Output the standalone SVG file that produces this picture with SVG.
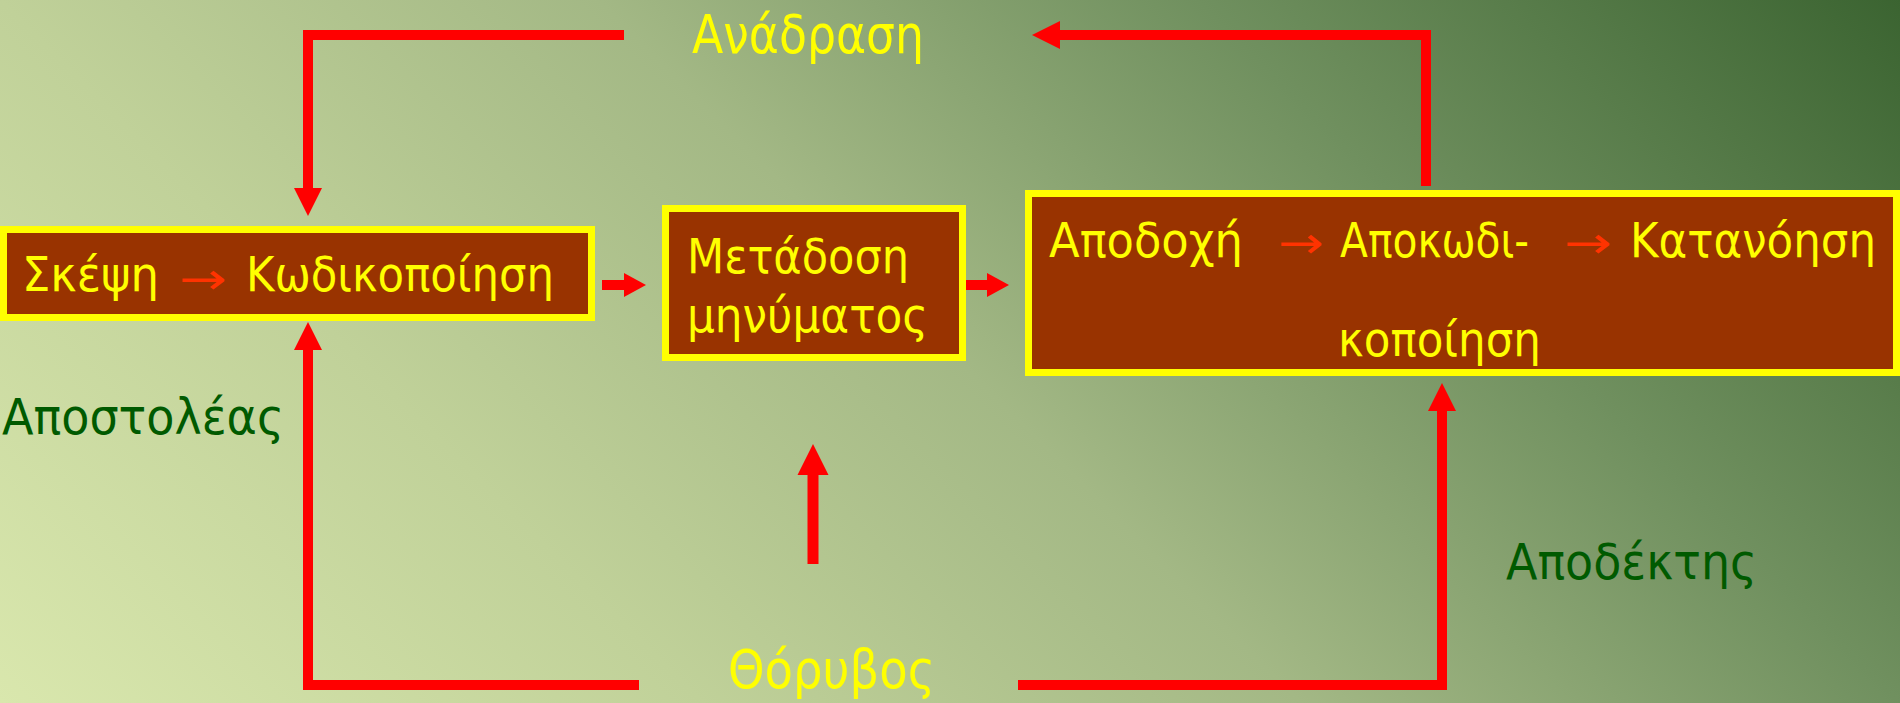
<svg xmlns="http://www.w3.org/2000/svg" width="1900" height="703" viewBox="0 0 1900 703">
<defs>
<linearGradient id="bg" gradientUnits="userSpaceOnUse" x1="0" y1="703" x2="1301.5" y2="-598.5">
<stop offset="0" stop-color="#D9E7AD"/>
<stop offset="0.27" stop-color="#C0D199"/>
<stop offset="0.5" stop-color="#A3B885"/>
<stop offset="0.73" stop-color="#70905F"/>
<stop offset="1" stop-color="#3B6431"/>
</linearGradient>
<style>
.box{fill:#993300;stroke:#FFFF00;stroke-width:7}
.bt{font-family:"DejaVu Sans","Noto Sans",sans-serif;font-size:48px;fill:#FFFF00}
.arr{font-family:"DejaVu Sans",sans-serif;font-size:44px;fill:#FF3300}
.lbl{font-family:"DejaVu Sans","Noto Sans",sans-serif;font-size:54px;fill:#FFFF00}
.lbg{font-family:"DejaVu Sans","Noto Sans",sans-serif;font-size:50px;fill:#005A00}
.ln{fill:none;stroke:#FF0000;stroke-width:10}
.hd{fill:#FF0000}
</style>
</defs>
<rect width="1900" height="703" fill="url(#bg)"/>

<g id="connectors">
<path class="ln" d="M1426,186 V35 H1058"/>
<polygon class="hd" points="1032,35 1060,21 1060,49"/>
<path class="ln" d="M624,35 H308 V190"/>
<polygon class="hd" points="308,216 294,188 322,188"/>
<path class="ln" d="M639,685 H308 V348"/>
<polygon class="hd" points="308,322 294,350 322,350"/>
<path class="ln" d="M1018,685 H1442 V409"/>
<polygon class="hd" points="1442,383 1428,411 1456,411"/>
<path class="ln" style="stroke-width:11" d="M813,564 V473"/>
<polygon class="hd" points="813,444 797.5,475 828.5,475"/>
<path class="ln" d="M602,285 H626"/>
<polygon class="hd" points="646,285 624,273 624,297"/>
<path class="ln" d="M966,285 H990"/>
<polygon class="hd" points="1009,285 987,273 987,297"/>
</g>

<g id="node-sender">
<rect class="box" x="3.5" y="229.5" width="588" height="88"/>
<text class="bt" x="22" y="291" textLength="137" lengthAdjust="spacingAndGlyphs">Σκέψη</text>
<text class="arr" x="179" y="294" textLength="48" lengthAdjust="spacingAndGlyphs">→</text>
<text class="bt" x="246" y="291" textLength="308" lengthAdjust="spacingAndGlyphs">Κωδικοποίηση</text>
</g>

<g id="node-transmission">
<rect class="box" x="665.5" y="208.5" width="297" height="149"/>
<text class="bt" x="687" y="273" textLength="222" lengthAdjust="spacingAndGlyphs">Μετάδοση</text>
<text class="bt" x="687" y="332" textLength="241" lengthAdjust="spacingAndGlyphs">μηνύματος</text>
</g>

<g id="node-receiver">
<rect class="box" x="1028.5" y="193.5" width="868" height="179"/>
<text class="bt" x="1049" y="257" textLength="194" lengthAdjust="spacingAndGlyphs">Αποδοχή</text>
<text class="arr" x="1278" y="258" textLength="46" lengthAdjust="spacingAndGlyphs">→</text>
<text class="bt" x="1340" y="257" textLength="189" lengthAdjust="spacingAndGlyphs">Αποκωδι-</text>
<text class="arr" x="1564" y="258" textLength="48" lengthAdjust="spacingAndGlyphs">→</text>
<text class="bt" x="1630" y="257" textLength="246" lengthAdjust="spacingAndGlyphs">Κατανόηση</text>
<text class="bt" x="1338" y="356" textLength="203" lengthAdjust="spacingAndGlyphs">κοποίηση</text>
</g>

<g id="label-feedback"><text class="lbl" x="692" y="53" textLength="232" lengthAdjust="spacingAndGlyphs">Ανάδραση</text></g>
<g id="label-noise"><text class="lbl" x="728" y="688" textLength="207" lengthAdjust="spacingAndGlyphs">Θόρυβος</text></g>
<g id="label-sender"><text class="lbg" x="2" y="434" textLength="282" lengthAdjust="spacingAndGlyphs">Αποστολέας</text></g>
<g id="label-receiver"><text class="lbg" x="1506" y="579" textLength="251" lengthAdjust="spacingAndGlyphs">Αποδέκτης</text></g>
</svg>
